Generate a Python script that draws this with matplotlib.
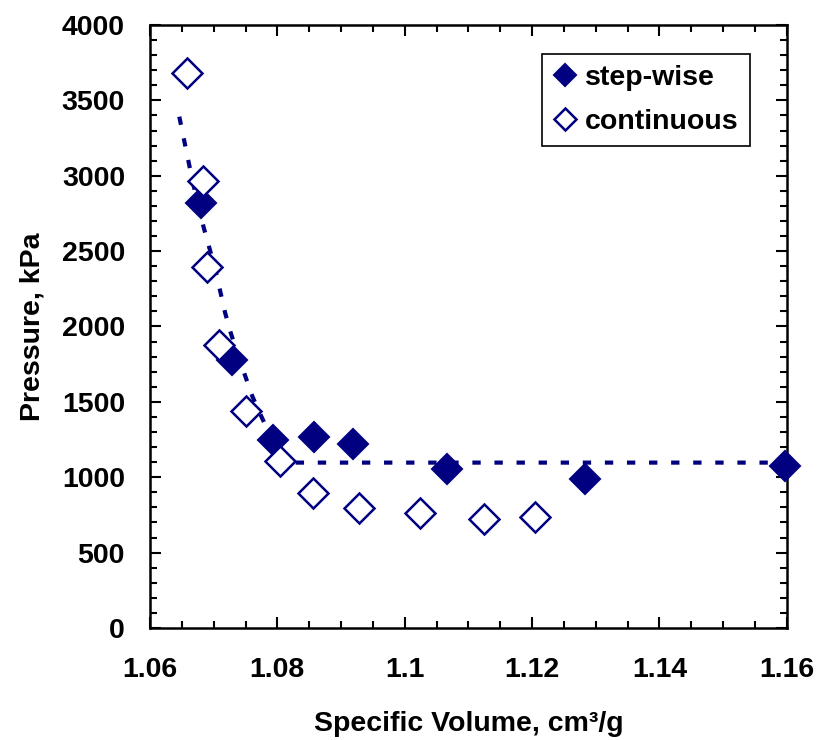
import numpy as np
import matplotlib.pyplot as plt
from matplotlib.ticker import MultipleLocator, FuncFormatter

# specific volume (cm3/g) and pressure (kPa)
step_v = [1.0680, 1.0729, 1.0793, 1.0858, 1.0919, 1.1067, 1.1283, 1.1597]
step_p = [2821, 1778, 1247, 1269, 1221, 1053, 988, 1075]

cont_v = [1.0658, 1.0684, 1.0689, 1.0709, 1.0750, 1.0804, 1.0856, 1.0928,
          1.1024, 1.1125, 1.1205]
cont_p = [3684, 2967, 2397, 1877, 1439, 1108, 894, 796, 761, 725, 736]

# fitted curve, then plateau
fit_v = [1.0646, 1.0660, 1.0667, 1.0684, 1.0702, 1.0718, 1.0727, 1.0737,
         1.0749, 1.0761, 1.0775, 1.0803, 1.0808, 1.1600]
fit_p = [3392, 3104, 2961, 2662, 2388, 2090, 1955, 1824,
         1678, 1534, 1402, 1148, 1097, 1097]

navy = '#000080'
plt.rcParams['font.family'] = ['Liberation Sans', 'DejaVu Sans']
plt.rcParams['font.weight'] = 'bold'
plt.rcParams['axes.labelweight'] = 'bold'
plt.rcParams['font.size'] = 20.5

fig = plt.figure(figsize=(8.17, 7.40), dpi=100)
ax = fig.add_axes([0.1836, 0.1514, 0.7794, 0.8148])

ax.plot(fit_v, fit_p, color=navy, lw=3.0, linestyle=(0, (2.0, 3.3)),
        dash_capstyle='butt', zorder=2)
ax.plot(step_v, step_p, 'D', color=navy, ms=15, mec=navy, mew=1.5,
        label='step-wise', clip_on=False, zorder=3)
ax.plot(cont_v, cont_p, 'D', color=navy, ms=15, mfc='white', mec=navy,
        mew=1.8, label='continuous', clip_on=False, zorder=3)

ax.set_xlim(1.06, 1.16)
ax.set_ylim(0, 4000)
ax.xaxis.set_major_locator(MultipleLocator(0.02))
ax.xaxis.set_minor_locator(MultipleLocator(0.005))
ax.yaxis.set_major_locator(MultipleLocator(500))
ax.yaxis.set_minor_locator(MultipleLocator(100))
ax.xaxis.set_major_formatter(FuncFormatter(lambda v, p: '%g' % round(v, 3)))

ax.tick_params(which='both', direction='in', top=True, right=True,
               width=1.5, color='black')
ax.tick_params(which='major', length=8)
ax.tick_params(which='minor', length=5)
ax.tick_params(axis='x', pad=21)
ax.tick_params(axis='y', pad=18)
for s in ax.spines.values():
    s.set_linewidth(1.8)

ax.set_xlabel('Specific Volume, cm³/g', labelpad=20)
ax.set_ylabel('Pressure, kPa', labelpad=12)

leg = ax.legend(loc='upper right', bbox_to_anchor=(0.942, 0.952),
                borderaxespad=0, fancybox=False, edgecolor='black',
                framealpha=1, handlelength=0.8, handletextpad=0.3,
                markerscale=0.75, labelspacing=0.62, borderpad=0.4)
leg.get_frame().set_linewidth(1.2)

fig.savefig('out.png', dpi=100)
